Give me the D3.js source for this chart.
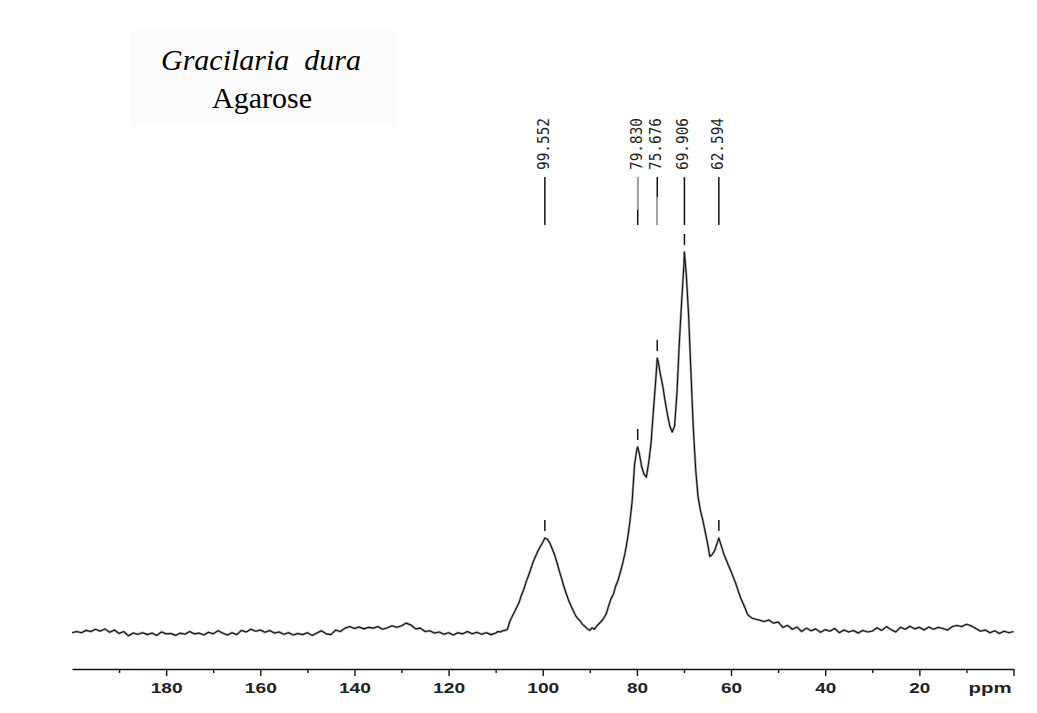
<!DOCTYPE html>
<html>
<head>
<meta charset="utf-8">
<script src="https://cdn.jsdelivr.net/npm/d3@7"></script>
<style>
  html, body { margin: 0; padding: 0; background: #fff; }
  svg { display: block; }
</style>
</head>
<body>
<div id="chart"></div>
<script>
// 13C NMR spectrum, Gracilaria dura agarose
const ppm = [
  200,199,198,197,196,195,194,193,192,191,190,189,188,187,186,185,184,183,182,181,
  180,179,178,177,176,175,174,173,172,171,170,169,168,167,166,165,164,163,162,161,
  160,159,158,157,156,155,154,153,152,151,150,149,148,147,146,145,144,143,142,141,
  140,139,138,137,136,135,134,133,132,131,130,129,128,127,126,125,124,123,122,121,
  120,119,118,117,116,115,114,113,112,111,110,
  109.5,109,108.5,108,107.5,107,106.5,106,105.5,105,104.5,104,103.5,103,102.5,102,101.5,101,100.5,100,
  99.55,99,98.5,98,97.5,97,96.5,96,95.5,95,94.5,94,93.5,93,92.5,92,91.5,91,90.5,90,
  89.5,89,88.5,88,87.5,87,86.5,86,85.5,85,84.5,84,83.5,83,82.5,82,81.5,81,80.5,80,
  79.83,79.5,79,78.5,78,77.5,77,76.5,76,75.68,75.5,75,74.5,74,73.5,73,72.5,72,71.5,71,
  70.5,70,69.91,69.5,69,68.5,68,67.5,67,66.5,66,65.5,65,64.5,64,63.5,63,62.59,62,61.5,
  61,60.5,60,59.5,59,58.5,58,57.5,57,56.5,56,55.5,55,
  54,53,52,51,50,49,48,47,46,45,44,43,42,41,40,39,38,37,36,35,
  34,33,32,31,30,29,28,27,26,25,24,23,22,21,20,19,18,17,16,15,
  14,13,12,11,10,9,8,7,6,5,4,3,2,1,0
];
const intensity = [
  0.6,0.9,0.6,1.2,0.9,1.5,1.0,1.6,0.7,1.3,0.4,0.9,-0.2,0.5,0.2,0.6,0.1,0.5,-0.1,0.8,
  0.3,0.4,-0.1,0.5,0.2,0.9,0.3,0.5,0.0,0.7,0.3,1.1,0.5,0.0,0.6,0.1,1.2,0.8,1.5,1.0,
  1.3,0.7,1.2,0.5,0.8,0.2,0.6,0.0,0.4,0.1,0.6,-0.1,0.5,1.1,0.3,0.1,1.3,0.9,1.8,2.2,
  1.7,2.1,1.6,2.0,1.8,2.2,1.5,1.9,2.4,2.0,2.4,3.1,2.6,1.6,1.8,0.9,1.1,0.5,0.8,0.2,
  0.6,0.0,0.6,0.3,0.9,0.3,0.7,0.2,0.6,0.1,0.5,
  0.9,0.8,1.1,1.2,1.5,3.5,4.8,6.0,7.3,8.6,10.5,12.0,14.0,15.6,17.4,19.2,20.6,22.0,23.1,24.2,
  25.3,25.0,24.0,22.5,21.0,19.0,16.8,14.8,12.6,10.8,9.0,7.6,6.3,5.0,4.2,3.6,2.7,2.2,1.6,1.2,
  1.9,1.5,2.4,3.0,3.6,4.5,5.6,7.6,9.5,10.6,12.8,14.3,16.5,18.8,21.5,25.0,29.5,35.0,44.5,48.5,
  49.1,47.5,44.0,42.0,41.2,45.0,50.0,58.5,66.5,72.3,71.5,68.0,65.0,61.0,57.5,54.5,53.0,54.5,63.0,76.0,
  87.0,97.0,100,94.0,83.0,68.0,53.5,43.0,36.0,32.5,30.0,27.0,24.0,20.5,21.0,22.0,23.8,25.3,23.0,21.0,
  19.5,18.0,16.6,15.0,13.5,11.6,9.8,8.4,7.0,5.4,4.8,4.4,4.2,
  3.9,3.5,3.9,3.1,3.4,2.0,2.5,1.5,2.1,0.9,1.8,1.1,1.6,0.7,1.4,1.0,1.7,0.6,1.3,0.8,
  1.2,0.5,1.2,0.8,1.0,1.9,1.2,2.2,1.4,0.8,2.0,1.5,2.3,1.6,2.0,1.3,2.1,1.5,2.0,1.7,
  1.3,2.2,2.5,2.2,2.8,2.4,1.7,1.0,1.3,0.6,1.1,0.4,1.0,0.6,0.9
];

// picked peaks
const peakPpm = [99.552, 79.830, 75.676, 69.906, 62.594];
const peakLabels = ["99.552", "79.830", "75.676", "69.906", "62.594"];
const peakHeights = [25.3, 49.1, 72.3, 100, 25.3];

const majorTicks = [180, 160, 140, 120, 100, 80, 60, 40, 20, 0];
const minorTicks = [190, 170, 150, 130, 110, 90, 70, 50, 30, 10];

const width = 1037, height = 713;

const svg = d3.select("#chart").append("svg")
  .attr("width", width)
  .attr("height", height);

const x = d3.scaleLinear().domain([200, 0]).range([72, 1013.5]);
const y = d3.scaleLinear().domain([0, 100]).range([635, 252]);

// faint title box
svg.append("rect")
  .attr("x", 130).attr("y", 30)
  .attr("width", 267).attr("height", 96)
  .attr("fill", "#fcfcfc");

svg.append("text")
  .attr("x", 261).attr("y", 70)
  .attr("text-anchor", "middle")
  .attr("xml:space", "preserve")
  .style("font-family", "'Liberation Serif', 'Times New Roman', serif")
  .style("font-style", "italic")
  .style("font-size", "30px")
  .text("Gracilaria  dura");

svg.append("text")
  .attr("x", 262).attr("y", 108)
  .attr("text-anchor", "middle")
  .style("font-family", "'Liberation Serif', 'Times New Roman', serif")
  .style("font-size", "30px")
  .text("Agarose");

// spectrum trace
const data = ppm.map((p, i) => [p, intensity[i]]);
const line = d3.line()
  .x(d => x(d[0]))
  .y(d => y(d[1]));

svg.append("path")
  .datum(data)
  .attr("fill", "none")
  .attr("stroke", "#aaa")
  .attr("stroke-width", 2.4)
  .attr("stroke-linejoin", "round")
  .attr("d", line);

svg.append("path")
  .datum(data)
  .attr("fill", "none")
  .attr("stroke", "#111")
  .attr("stroke-width", 1.1)
  .attr("stroke-linejoin", "round")
  .attr("d", line);

// peak labels + leader lines
const peaks = svg.append("g").selectAll("g")
  .data(peakPpm)
  .join("g");

peaks.append("line")
  .attr("x1", d => x(d)).attr("x2", d => x(d))
  .attr("y1", 177).attr("y2", 225)
  .attr("stroke", "#111")
  .attr("stroke-width", 1.5);

// the two close ones have partly grey leaders in the original
svg.append("line")
  .attr("x1", x(79.830)).attr("x2", x(79.830))
  .attr("y1", 177).attr("y2", 210)
  .attr("stroke", "#aaa").attr("stroke-width", 1.6);
svg.append("line")
  .attr("x1", x(75.676)).attr("x2", x(75.676))
  .attr("y1", 197).attr("y2", 225)
  .attr("stroke", "#aaa").attr("stroke-width", 1.6);

peaks.append("text")
  .attr("transform", d => `translate(${x(d) - 1},170) rotate(-90)`)
  .attr("dominant-baseline", "central")
  .attr("textLength", 52)
  .attr("lengthAdjust", "spacingAndGlyphs")
  .style("font-family", "'DejaVu Sans Mono', monospace")
  .style("font-size", "15px")
  .attr("fill", "#222")
  .text((d, i) => peakLabels[i]);

// small marks above each peak
peaks.append("line")
  .attr("x1", d => x(d)).attr("x2", d => x(d))
  .attr("y1", (d, i) => y(peakHeights[i]) - 18)
  .attr("y2", (d, i) => y(peakHeights[i]) - 7)
  .attr("stroke", "#111")
  .attr("stroke-width", 1.5);

// ppm axis
const axisY = 669;
const axisG = svg.append("g").attr("transform", `translate(0,${axisY})`);

axisG.call(d3.axisBottom(x)
  .tickValues(majorTicks)
  .tickSize(7)
  .tickSizeOuter(0)
  .tickFormat(d => d === 0 ? "" : d));

axisG.call(g => g.select(".domain").attr("stroke", "#111").attr("stroke-width", 1.4));
axisG.selectAll(".tick line").attr("stroke", "#111").attr("stroke-width", 1.4);
axisG.selectAll(".tick text")
  .attr("y", 24)
  .attr("dy", 0)
  .attr("textLength", d => String(d).length === 3 ? 32 : 21)
  .attr("lengthAdjust", "spacingAndGlyphs")
  .style("font-family", "'Liberation Sans', Arial, sans-serif")
  .style("font-size", "15px")
  .style("font-weight", "bold")
  .attr("fill", "#222");

const minorG = svg.append("g").attr("transform", `translate(0,${axisY})`);
minorG.call(d3.axisBottom(x)
  .tickValues(minorTicks)
  .tickSize(4)
  .tickSizeOuter(0)
  .tickFormat(""));
minorG.select(".domain").remove();
minorG.selectAll(".tick line").attr("stroke", "#111").attr("stroke-width", 1.4);

svg.append("text")
  .attr("x", 990).attr("y", axisY + 24)
  .attr("text-anchor", "middle")
  .attr("textLength", 43)
  .attr("lengthAdjust", "spacingAndGlyphs")
  .style("font-family", "'Liberation Sans', Arial, sans-serif")
  .style("font-size", "15px")
  .style("font-weight", "bold")
  .attr("fill", "#222")
  .text("ppm");
</script>
</body>
</html>
